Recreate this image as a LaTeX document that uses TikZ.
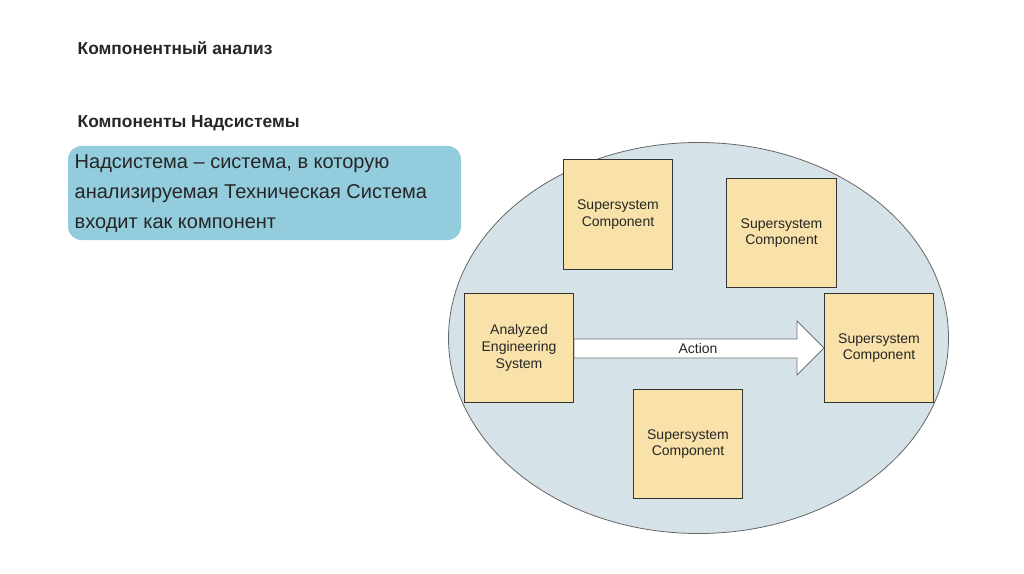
\documentclass[tikz,border=0pt]{standalone}
\usepackage{fontspec}
\setmainfont{Liberation Sans}
\begin{document}
\begin{tikzpicture}[x=0.75pt,y=-0.75pt,
  comp/.style={draw=black!80,line width=0.6pt,minimum width=82pt,minimum height=82pt,align=center,font=\fontsize{10.5}{12.5}\selectfont,text=black!85},
  ttl/.style={anchor=west,font=\bfseries\fontsize{13}{15}\selectfont,text=black!85}]
\useasboundingbox (0,0) rectangle (1024,574);
\definecolor{boxc}{HTML}{F9E2A9}
\definecolor{ellc}{HTML}{D5E2E7}
\definecolor{bluec}{HTML}{93CDDD}
\node[ttl] (t1) at (73,48) {Компонентный анализ};
\node[ttl] (t2) at (73,123) {Компоненты Надсистемы};
\fill[bluec,rounded corners=10pt] (68,146) rectangle (461,240);
\node[anchor=north west,align=left,font=\fontsize{15}{22.5}\selectfont,text=black!85] (def) at (70,150) {Надсистема – система, в которую\\анализируемая Техническая Система\\входит как компонент};
\draw[fill=ellc,draw=black!60,line width=0.6pt] (698.5,338) ellipse (250 and 195.5);
\tikzset{comp/.append style={fill=boxc}}
\node[comp] (s1) at (618,214.5) {Supersystem\\Component};
\node[comp] (s2) at (781.5,233) {Supersystem\\Component};
\node[comp] (ae) at (519,348) {Analyzed\\Engineering\\System};
\node[comp] (s3) at (879,348) {Supersystem\\Component};
\node[comp] (s4) at (688,444) {Supersystem\\Component};
\draw[fill=white,draw=black!55,line width=0.6pt] (ae.east |- 0,339) -- (797,339) -- (797,321) -- (s3.west |- 0,348) -- (797,375) -- (797,358) -- (ae.east |- 0,358) -- cycle;
\node[font=\fontsize{10.5}{12}\selectfont,text=black!85] (act) at (698,348.5) {Action};
\end{tikzpicture}
\end{document}
